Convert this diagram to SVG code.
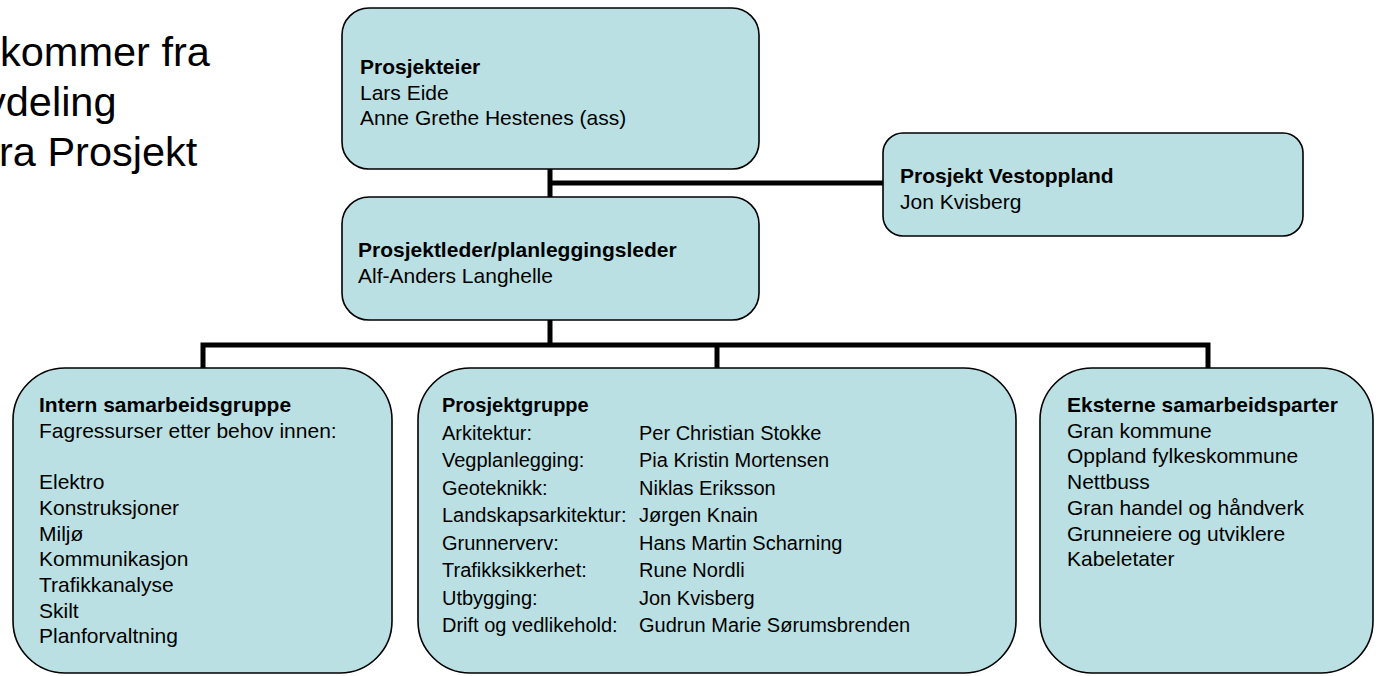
<svg xmlns="http://www.w3.org/2000/svg" width="1378" height="676" viewBox="0 0 1378 676">
<style>
.box{fill:#bae0e3;stroke:#000;stroke-width:1.6}
.conn{fill:none;stroke:#000;stroke-width:5;stroke-linecap:butt;stroke-linejoin:miter}
text{font-family:"Liberation Sans",Arial,Helvetica,sans-serif;fill:#000}
.t{font-size:21px}
.b{font-size:21px;font-weight:bold}
.m{font-size:20px}
.mb{font-size:20px;font-weight:bold}
.big{font-size:41.5px}
</style>
<rect width="1378" height="676" fill="#fff"/>
<g id="intro">
<text class="big" x="0" y="66">kommer fra</text>
<text class="big" x="-15" y="116">vdeling</text>
<text class="big" x="-1" y="166">ra Prosjekt</text>
</g>
<g id="connectors">
<path class="conn" d="M550 169V197"/>
<path class="conn" d="M550 183H883"/>
<path class="conn" d="M550 320V345"/>
<path class="conn" d="M203 368V345H1208V368"/>
<path class="conn" d="M717 345V368"/>
</g>
<g id="prosjekteier">
<rect class="box" x="342" y="8" width="417" height="161" rx="27"/>
<text class="b" x="360" y="74">Prosjekteier</text>
<text class="t" x="360" y="99.5">Lars Eide</text>
<text class="t" x="360" y="125">Anne Grethe Hestenes (ass)</text>
</g>
<g id="vestoppland">
<rect class="box" x="883" y="133" width="420" height="103" rx="20"/>
<text class="b" x="900" y="183">Prosjekt Vestoppland</text>
<text class="t" x="900" y="208.5">Jon Kvisberg</text>
</g>
<g id="prosjektleder">
<rect class="box" x="342" y="197" width="417" height="123" rx="27"/>
<text class="b" x="358" y="257">Prosjektleder/planleggingsleder</text>
<text class="t" x="358" y="282.5">Alf-Anders Langhelle</text>
</g>
<g id="intern">
<rect class="box" x="13" y="368" width="379" height="305" rx="52"/>
<text class="b" x="39" y="412">Intern samarbeidsgruppe</text>
<text class="t" x="39" y="437.7">Fagressurser etter behov innen:</text>
<text class="t" x="39" y="489">Elektro</text>
<text class="t" x="39" y="514.8">Konstruksjoner</text>
<text class="t" x="39" y="540.5">Miljø</text>
<text class="t" x="39" y="566.2">Kommunikasjon</text>
<text class="t" x="39" y="591.9">Trafikkanalyse</text>
<text class="t" x="39" y="617.6">Skilt</text>
<text class="t" x="39" y="643.3">Planforvaltning</text>
</g>
<g id="prosjektgruppe">
<rect class="box" x="418" y="368" width="598" height="305" rx="52"/>
<text class="mb" x="442" y="412">Prosjektgruppe</text>
<text class="m" x="442" y="439.5">Arkitektur:</text>
<text class="m" x="442" y="467">Vegplanlegging:</text>
<text class="m" x="442" y="494.5">Geoteknikk:</text>
<text class="m" x="442" y="522">Landskapsarkitektur:</text>
<text class="m" x="442" y="549.5">Grunnerverv:</text>
<text class="m" x="442" y="577">Trafikksikkerhet:</text>
<text class="m" x="442" y="604.5">Utbygging:</text>
<text class="m" x="442" y="632">Drift og vedlikehold:</text>
<text class="m" x="639" y="439.5">Per Christian Stokke</text>
<text class="m" x="639" y="467">Pia Kristin Mortensen</text>
<text class="m" x="639" y="494.5">Niklas Eriksson</text>
<text class="m" x="639" y="522">Jørgen Knain</text>
<text class="m" x="639" y="549.5">Hans Martin Scharning</text>
<text class="m" x="639" y="577">Rune Nordli</text>
<text class="m" x="639" y="604.5">Jon Kvisberg</text>
<text class="m" x="639" y="632">Gudrun Marie Sørumsbrenden</text>
</g>
<g id="eksterne">
<rect class="box" x="1040" y="368" width="333" height="305" rx="52"/>
<text class="b" x="1067" y="412">Eksterne samarbeidsparter</text>
<text class="t" x="1067" y="437.7">Gran kommune</text>
<text class="t" x="1067" y="463.4">Oppland fylkeskommune</text>
<text class="t" x="1067" y="489">Nettbuss</text>
<text class="t" x="1067" y="514.8">Gran handel og håndverk</text>
<text class="t" x="1067" y="540.5">Grunneiere og utviklere</text>
<text class="t" x="1067" y="566.2">Kabeletater</text>
</g>
</svg>
